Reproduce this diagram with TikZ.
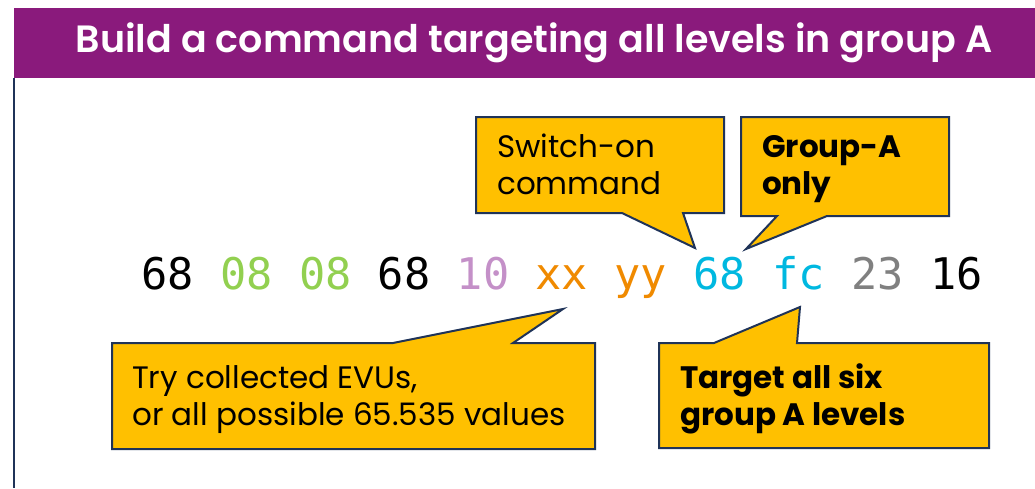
\documentclass[tikz,border=0pt]{standalone}
\usepackage{fontspec}
\setmainfont{Poppins}
\newfontfamily\titlefont{Poppins SemiBold}
\newfontfamily\hexfont{DejaVu Sans Mono}
\definecolor{banner}{HTML}{8A1A7C}
\definecolor{navy}{HTML}{1F3358}
\definecolor{note}{HTML}{FFC000}
\definecolor{hexgreen}{HTML}{92D050}
\definecolor{hexlilac}{HTML}{C490C8}
\definecolor{hexorange}{HTML}{F08A00}
\definecolor{hexcyan}{HTML}{00B8E0}
\definecolor{hexgray}{HTML}{808080}
\tikzset{
  bubble/.style={fill=note, draw=navy, line width=2pt, line join=miter},
  bubbletext/.style={anchor=base west, align=left, inner sep=0pt,
    font=\fontsize{31}{37}\selectfont},
  boldtext/.style={bubbletext, font=\bfseries\fontsize{31}{37}\selectfont},
  hexbyte/.style={anchor=base west, inner sep=0pt,
    font=\hexfont\fontsize{43.6}{50}\selectfont},
}
\begin{document}
\begin{tikzpicture}[x=1pt,y=-1pt]
\useasboundingbox (0,0) rectangle (1035,488);
\fill[white] (0,0) rectangle (1035,488);
% title banner and side rule
\fill[banner] (14,8) rectangle (1035,78);
\draw[navy, line width=2.5pt] (14,78) -- (14,488);
\node[text=white, inner sep=0pt, font=\titlefont\fontsize{38}{44}\selectfont] (title) at (534,43)
  {Build a command targeting all levels in group A};

% the frame bytes
\foreach \b/\c [count=\i from 0] in {68/black, 08/hexgreen, 08/hexgreen, 68/black,
    10/hexlilac, xx/hexorange, yy/hexorange, 68/hexcyan, fc/hexcyan, 23/hexgray, 16/black}
  \node[hexbyte, text=\c] (b\i) at ({141+78.9*\i},289) {\b};

% pointer tips
\coordinate (tipswitch) at (695,248);
\coordinate (tipgroup) at (746,249);
\coordinate (tipevu) at (563,309);
\coordinate (tiptarget) at (800,307);

% callouts
\draw[bubble] (476,117) -- (724,117) -- (724,213) -- (683,213) -- (tipswitch)
  -- (622,213) -- (476,213) -- cycle;
\draw[bubble] (741,117) -- (949,117) -- (949,216) -- (827,216) -- (tipgroup)
  -- (777,216) -- (741,216) -- cycle;
\draw[bubble] (112,343) -- (393,343) -- (tipevu) -- (513,343) -- (595,343)
  -- (595,449) -- (112,449) -- cycle;
\draw[bubble] (659,343) -- (714,343) -- (tiptarget) -- (797,343) -- (989,343)
  -- (989,448) -- (659,448) -- cycle;

% the last line of each note sits on the given baseline
\node[bubbletext] (switch) at (497,194) {Switch-on\\command};
\node[boldtext] (group) at (762,194) {Group-A\\only};
\node[bubbletext] (evu) at (132,425) {Try collected EVUs,\\or all possible 65.535 values};
\node[boldtext] (target) at (680,425) {Target all six\\group A levels};
\end{tikzpicture}
\end{document}
